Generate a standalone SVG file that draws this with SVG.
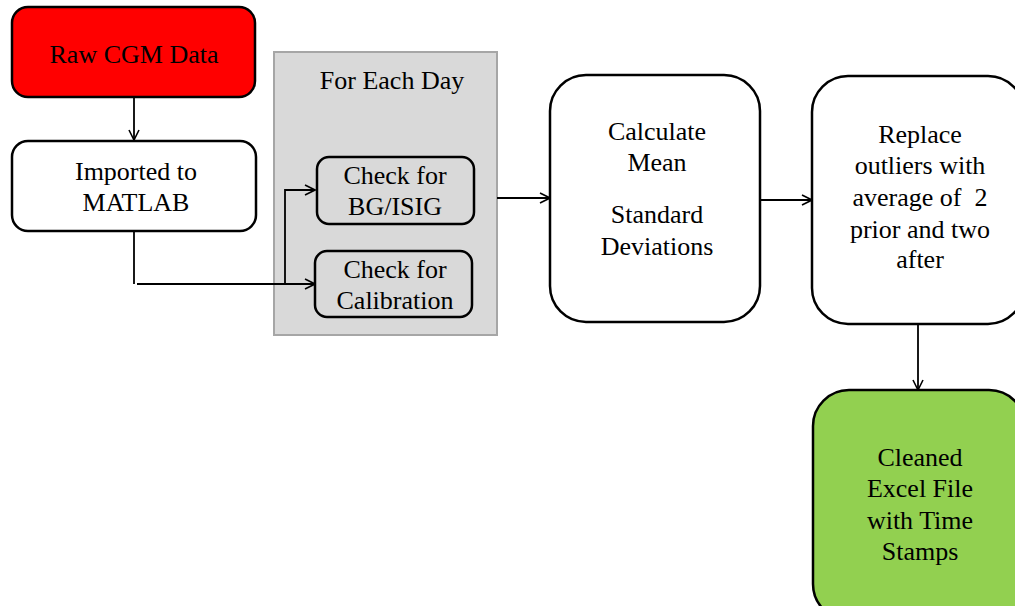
<svg xmlns="http://www.w3.org/2000/svg" width="1015" height="606" viewBox="0 0 1015 606">
<defs>
<marker id="arr" viewBox="0 0 12 12" refX="11" refY="6" markerWidth="12" markerHeight="12" markerUnits="userSpaceOnUse" orient="auto">
<path d="M1,1 L11,6 L1,11" fill="none" stroke="#000" stroke-width="1.6"/>
</marker>
<style>
.n{stroke:#000;stroke-width:2.5}
.t{font-family:"Liberation Serif","Times New Roman",serif;font-size:26px;fill:#000;text-anchor:middle}
.c{fill:none;stroke:#000;stroke-width:1.8}
</style>
</defs>
<rect width="1015" height="606" fill="#fff"/>
<g id="group-day">
<rect x="274" y="52" width="223" height="283" fill="#D9D9D9" stroke="#A6A6A6" stroke-width="2"/>
<text class="t" x="392" y="89">For Each Day</text>
</g>
<g id="connectors">
<line class="c" x1="134" y1="97" x2="134" y2="140" marker-end="url(#arr)"/>
<line class="c" x1="134" y1="232" x2="134" y2="284"/>
<line class="c" x1="137" y1="284" x2="315" y2="284" marker-end="url(#arr)"/>
<polyline class="c" points="285,284 285,190 315,190" marker-end="url(#arr)"/>
<line class="c" x1="497" y1="198" x2="550" y2="198" marker-end="url(#arr)"/>
<line class="c" x1="760" y1="200" x2="812" y2="200" marker-end="url(#arr)"/>
<line class="c" x1="918" y1="324" x2="918" y2="390" marker-end="url(#arr)"/>
</g>
<g id="raw">
<rect class="n" x="12" y="7" width="243" height="90" rx="16" fill="#FF0000"/>
<text class="t" x="134" y="63">Raw CGM Data</text>
</g>
<g id="imported">
<rect class="n" x="12" y="141" width="244" height="90" rx="16" fill="#fff"/>
<text class="t" x="136" y="180">Imported to</text>
<text class="t" x="136" y="211">MATLAB</text>
</g>
<g id="bgisig">
<rect class="n" x="317" y="157" width="157" height="67" rx="12" fill="#D9D9D9"/>
<text class="t" x="395" y="184">Check for</text>
<text class="t" x="395" y="215">BG/ISIG</text>
</g>
<g id="calib">
<rect class="n" x="315" y="251" width="157" height="66" rx="12" fill="#D9D9D9"/>
<text class="t" x="395" y="278">Check for</text>
<text class="t" x="395" y="309">Calibration</text>
</g>
<g id="calc">
<rect class="n" x="550" y="75" width="210" height="247" rx="36" fill="#fff"/>
<text class="t" x="657" y="140">Calculate</text>
<text class="t" x="657" y="171">Mean</text>
<text class="t" x="657" y="223">Standard</text>
<text class="t" x="657" y="255">Deviations</text>
</g>
<g id="replace">
<rect class="n" x="812" y="76" width="212" height="248" rx="36" fill="#fff"/>
<text class="t" x="920" y="143">Replace</text>
<text class="t" x="920" y="174">outliers with</text>
<text class="t" x="920" y="206" xml:space="preserve">average of  2</text>
<text class="t" x="920" y="238">prior and two</text>
<text class="t" x="920" y="268">after</text>
</g>
<g id="cleaned">
<rect class="n" x="813" y="390" width="212" height="230" rx="36" fill="#92D050"/>
<text class="t" x="920" y="466">Cleaned</text>
<text class="t" x="920" y="497">Excel File</text>
<text class="t" x="920" y="529">with Time</text>
<text class="t" x="920" y="560">Stamps</text>
</g>
</svg>
